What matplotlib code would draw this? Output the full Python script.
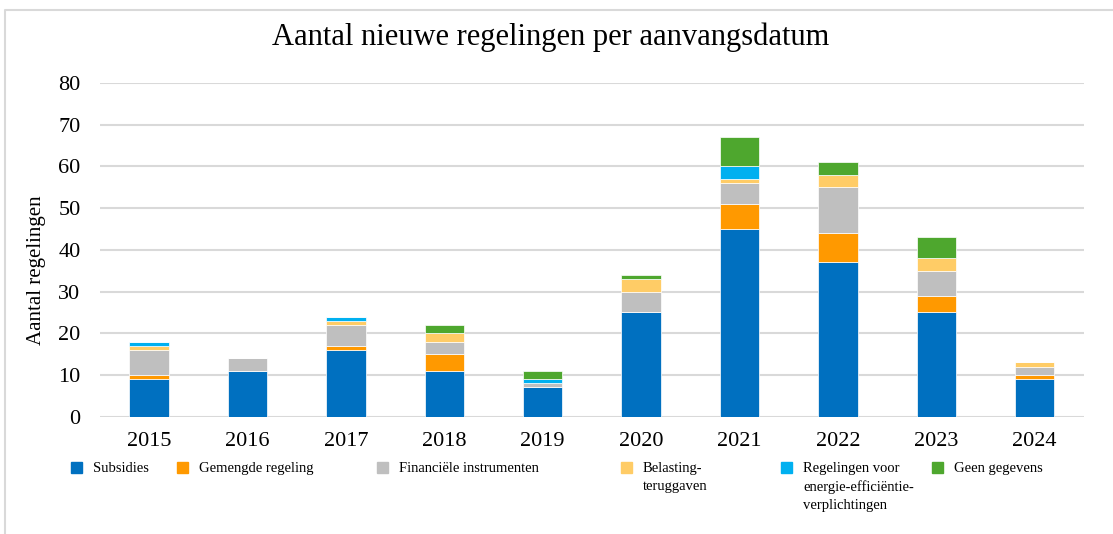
import numpy as np
import matplotlib
matplotlib.use("Agg")
import matplotlib.pyplot as plt
from matplotlib.patches import Rectangle
from matplotlib.lines import Line2D

plt.rcParams["font.family"] = ["Liberation Serif", "DejaVu Serif"]

years = ["2015", "2016", "2017", "2018", "2019", "2020", "2021", "2022", "2023", "2024"]
subsidies = [9, 11, 16, 11, 7, 25, 45, 37, 25, 9]
gemengd = [1, 0, 1, 4, 0, 0, 6, 7, 4, 1]
financieel = [6, 3, 5, 3, 1, 5, 5, 11, 6, 2]
belasting = [1, 0, 1, 2, 0, 3, 1, 3, 3, 1]
energie = [1, 0, 1, 0, 1, 0, 3, 0, 0, 0]
geen = [0, 0, 0, 2, 2, 1, 7, 3, 5, 0]

series = [
    ("Subsidies", subsidies, "#0070C0"),
    ("Gemengde regeling", gemengd, "#FF9900"),
    ("Financiële instrumenten", financieel, "#BFBFBF"),
    ("Belasting-\nteruggaven", belasting, "#FFCC66"),
    ("Regelingen voor\nenergie-efficiëntie-\nverplichtingen", energie, "#00B0F0"),
    ("Geen gegevens", geen, "#4EA72E"),
]

fig = plt.figure(figsize=(11.13, 5.34), dpi=100)
ax = fig.add_axes([0.0898, 0.2197, 0.884, 0.6249])

x = np.arange(len(years))
bottom = np.zeros(len(years))
for name, vals, col in series:
    ax.bar(x, vals, 0.4, bottom=bottom, color=col, edgecolor="white", linewidth=0.5, zorder=3)
    bottom += np.array(vals)

ax.set_xlim(-0.5, len(years) - 0.5)
ax.set_ylim(0, 80)
ax.set_yticks(range(0, 81, 10))
ax.set_xticks(x)
ax.set_xticklabels(years)
ax.tick_params(axis="both", length=0, labelsize=16)
ax.tick_params(axis="x", pad=11)
ax.tick_params(axis="y", pad=14)
ax.grid(axis="y", color="#D9D9D9", linewidth=1.5, zorder=0)
for s in ax.spines.values():
    s.set_visible(False)

fig.text(0.495, 0.931, "Aantal nieuwe regelingen per aanvangsdatum", ha="center", va="center", fontsize=22)
fig.text(0.033, 0.494, "Aantal regelingen", rotation=90, ha="center", va="center", fontsize=15)

# legend drawn by hand to follow the uneven spacing
W, H = 1113, 534
marker_x = [76, 182, 382, 626, 786, 937]
for (name, vals, col), mx in zip(series, marker_x):
    fig.patches.append(Rectangle(((mx - 5.5) / W, 1 - 473 / H), 11 / W, 11 / H,
                                 transform=fig.transFigure, color=col))
    fig.text((mx + 17) / W, 1 - 462 / H, name, ha="left", va="top", fontsize=10.5,
             linespacing=1.5)

# outer frame (top and left edges visible)
fig.lines.append(Line2D([5 / W, 5 / W, 1.0], [0.0, 1 - 10 / H, 1 - 10 / H],
                        transform=fig.transFigure, color="#D9D9D9", linewidth=1.5))

fig.savefig("out.png", dpi=100)
